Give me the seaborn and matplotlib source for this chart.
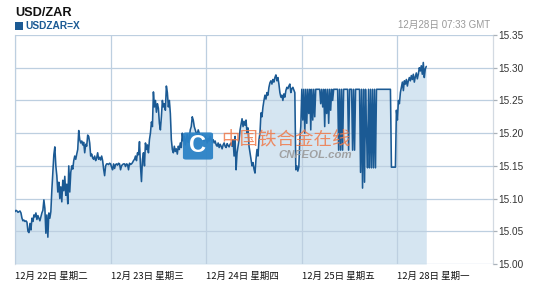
import numpy as np
import pandas as pd
import matplotlib
matplotlib.use("Agg")
import matplotlib.pyplot as plt
from matplotlib.patches import FancyBboxPatch
import seaborn as sns

# ---------------- data ----------------
title = "USD/ZAR"
series_name = "USDZAR=X"
timestamp = "12月28日 07:33 GMT"
day_labels = ["12月 22日 星期二", "12月 23日 星期三", "12月 24日 星期四",
              "12月 25日 星期五", "12月 28日 星期一"]
y_ticks = [15.00, 15.05, 15.10, 15.15, 15.20, 15.25, 15.30, 15.35]
sample_minutes = 15  # one quote every 15 minutes (trading days only)

rates = [
    # 22日
    15.080, 15.082, 15.081, 15.079, 15.080, 15.081, 15.078,
    15.070, 15.066, 15.067, 15.065, 15.066, 15.064,
    15.050, 15.048, 15.062, 15.052,
    15.070, 15.065, 15.075, 15.072, 15.078, 15.068, 15.074, 15.070, 15.066, 15.072, 15.078, 15.082,
    15.098, 15.085, 15.047, 15.075, 15.041, 15.078, 15.070, 15.080,
    15.113, 15.141, 15.167, 15.179, 15.150,
    15.135, 15.110, 15.125, 15.100, 15.118, 15.095, 15.128, 15.112, 15.134, 15.105, 15.122, 15.092, 15.150, 15.110,
    15.140, 15.150, 15.145, 15.158, 15.165, 15.160, 15.168, 15.175,
    15.204, 15.190, 15.185, 15.188, 15.182, 15.186, 15.170, 15.183, 15.180,
    15.197, 15.195, 15.185, 15.165, 15.168, 15.162,
    15.160, 15.165, 15.158, 15.162, 15.170, 15.160, 15.163, 15.159, 15.165, 15.158,
    15.145, 15.135, 15.150, 15.153,
    # 23日
    15.153, 15.152, 15.154, 15.153, 15.148, 15.144, 15.153, 15.146, 15.152, 15.153,
    15.151, 15.154, 15.153, 15.144, 15.150, 15.152, 15.153, 15.153, 15.149, 15.153,
    15.152, 15.144, 15.154, 15.152, 15.153, 15.155, 15.158,
    15.160, 15.165, 15.158, 15.170, 15.167,
    15.187, 15.150, 15.126, 15.160, 15.170, 15.150, 15.185, 15.175, 15.182, 15.170, 15.190, 15.200,
    15.217, 15.210, 15.263, 15.240, 15.250, 15.232, 15.245, 15.238, 15.215,
    15.205, 15.225, 15.250, 15.240, 15.245, 15.235,
    15.272, 15.262, 15.240, 15.250, 15.230,
    15.190, 15.175, 15.170, 15.180, 15.172, 15.176, 15.168, 15.180, 15.175, 15.185, 15.178,
    15.200, 15.188, 15.195, 15.182, 15.190, 15.198, 15.186, 15.192, 15.205, 15.210,
    15.225, 15.220, 15.210, 15.205, 15.200, 15.198, 15.205,
    # 24日
    15.200, 15.195, 15.190, 15.198, 15.192, 15.188, 15.195, 15.190, 15.185, 15.192,
    15.188, 15.195, 15.190, 15.186, 15.190, 15.185, 15.188,
    15.182, 15.180, 15.185, 15.178, 15.183, 15.180, 15.176, 15.182, 15.185, 15.180,
    15.178, 15.184, 15.181, 15.179, 15.183, 15.185, 15.180,
    15.190, 15.165, 15.195, 15.144, 15.170, 15.180, 15.190,
    15.205, 15.214, 15.222, 15.210, 15.218, 15.212, 15.220, 15.200, 15.208,
    15.180, 15.170, 15.160, 15.150, 15.155, 15.145, 15.139,
    15.160, 15.175, 15.165, 15.190, 15.200,
    15.231, 15.225, 15.240, 15.250, 15.258, 15.252, 15.262, 15.258,
    15.270, 15.277, 15.280, 15.275, 15.282, 15.278, 15.285, 15.289, 15.280, 15.285, 15.275, 15.262,
    15.255, 15.258, 15.250, 15.260, 15.255, 15.265,
    15.270, 15.268, 15.272, 15.275, 15.262, 15.268, 15.270, 15.266, 15.262,
    15.144, 15.150, 15.142, 15.148, 15.190,
    # 25日
    15.210,
    15.267, 15.220, 15.267, 15.200, 15.267, 15.215, 15.267, 15.230, 15.267, 15.205,
    15.267, 15.220, 15.267, 15.225, 15.267, 15.267, 15.267, 15.267, 15.267,
    15.245, 15.267, 15.240, 15.267, 15.210, 15.267, 15.230, 15.267, 15.215, 15.267, 15.235, 15.267, 15.250, 15.267,
    15.267, 15.267, 15.267, 15.267,
    15.174, 15.267, 15.174, 15.267, 15.174, 15.267,
    15.267, 15.267, 15.267, 15.267,
    15.174, 15.267,
    15.267, 15.267,
    15.174, 15.267, 15.174, 15.267,
    15.267, 15.267, 15.267, 15.267,
    15.140, 15.267, 15.116, 15.267, 15.125,
    15.267, 15.200, 15.147, 15.267, 15.147, 15.267,
    15.147, 15.267, 15.147, 15.267, 15.147,
    15.267, 15.267, 15.267, 15.267, 15.267, 15.267, 15.267, 15.267, 15.267, 15.267,
    15.267, 15.267, 15.267, 15.267, 15.267,
    15.148, 15.148, 15.148, 15.148, 15.148,
    # 28日
    15.235, 15.220, 15.250, 15.245, 15.262,
    15.270, 15.278, 15.265, 15.280, 15.275, 15.282, 15.272, 15.280,
    15.285, 15.280, 15.288, 15.282, 15.290, 15.278, 15.286, 15.292, 15.283, 15.290,
    15.300, 15.295, 15.303, 15.290, 15.308, 15.285, 15.298, 15.302,
]

df = pd.DataFrame({"rate": rates})
df["day"] = np.arange(len(df)) * sample_minutes / (24 * 60)

# ---------------- style ----------------
sns.set_style("white")
plt.rcParams["font.family"] = ["Liberation Sans", "Noto Sans CJK SC", "DejaVu Sans"]

LINE = "#1b5a94"
FILL = "#d5e5f1"
GRID = (0.74, 0.81, 0.88, 0.33)
SPINE = "#d3dae2"

fig = plt.figure(figsize=(5.4, 2.91), dpi=100)
ax = fig.add_axes([15 / 540, 27 / 291, 478 / 540, 229 / 291])

ax.fill_between(df["day"], df["rate"], 15.0, color=FILL, lw=0, zorder=1)
sns.lineplot(data=df, x="day", y="rate", ax=ax, color=LINE, lw=1.15, zorder=3)

ax.set_xlim(0, 5)
ax.set_ylim(15.0, 15.35)
ax.set_xlabel("")
ax.set_ylabel("")

# grid
ax.set_axisbelow(False)
ax.grid(True, color=GRID, lw=0.9, zorder=2)
for s in ["top", "bottom"]:
    ax.spines[s].set_visible(False)
for s in ["left", "right"]:
    ax.spines[s].set_color(SPINE)
    ax.spines[s].set_linewidth(0.9)

# x ticks
ax.set_xticks(range(len(day_labels)))
ax.set_xticklabels(day_labels, family=["Noto Sans CJK SC", "DejaVu Sans"],
                   fontsize=6.8, color="#111111")
for lab in ax.get_xticklabels():
    lab.set_ha("left")
ax.tick_params(axis="x", direction="out", length=4, width=0.9, color="#c8ced6", pad=1.5)

# y ticks on right
ax.yaxis.tick_right()
ax.set_yticks(y_ticks)
ax.set_yticklabels([f"{v:.2f}" for v in y_ticks], fontsize=7.2, color="#333333")
ax.tick_params(axis="y", direction="out", length=3, width=0.9, color="#aab2ba", pad=1)

# header
fig.text(15 / 540, 1 - 12.5 / 291, title, fontsize=9.2, fontweight="bold",
         color="#111111", va="center", ha="left")
fig.patches.append(FancyBboxPatch((15 / 540, 1 - 30 / 291), 7.5 / 540, 8 / 291,
                                  boxstyle="square,pad=0", transform=fig.transFigure,
                                  facecolor=LINE, edgecolor="none"))
fig.text(25 / 540, 1 - 26 / 291, series_name, fontsize=7.3, fontweight="bold",
         color=LINE, va="center", ha="left")
fig.text(490 / 540, 1 - 25 / 291, timestamp, fontsize=7.0, color="#999999",
         va="center", ha="right", family=["Liberation Sans", "Noto Sans CJK SC"])

# watermark
fig.patches.append(FancyBboxPatch((184 / 540, 1 - 159 / 291), 28 / 540, 26 / 291,
                                  boxstyle="round,pad=0.002,rounding_size=0.006",
                                  transform=fig.transFigure, facecolor="#2b82c6",
                                  edgecolor="none", zorder=5, alpha=0.95))
fig.text(198 / 540, 1 - 146 / 291, "C", fontsize=17, fontweight="bold", color="white",
         va="center", ha="center", zorder=6)
fig.text(221 / 540, 1 - 140 / 291, "中国铁合金在线", fontsize=13.3, color="#f07a4a",
         va="center", ha="left", alpha=0.85, zorder=6,
         family=["Noto Sans CJK SC", "DejaVu Sans"])
fig.text(278 / 540, 1 - 155.5 / 291, "CNFEOL.com", fontsize=8.2, fontweight="bold",
         style="italic", color="#9a9a9a", va="center", ha="left", alpha=0.9, zorder=6)

fig.savefig("out.png", dpi=100)
